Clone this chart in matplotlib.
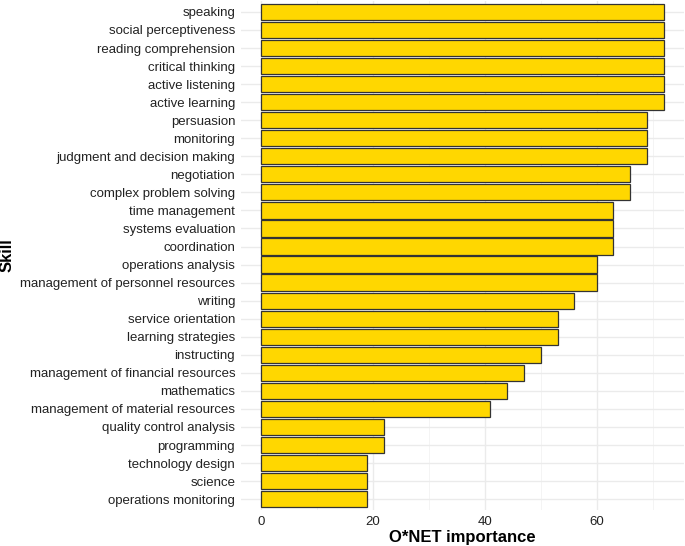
import matplotlib
matplotlib.use("Agg")
import matplotlib.pyplot as plt
from matplotlib.ticker import MultipleLocator

skills = [
    "speaking",
    "social perceptiveness",
    "reading comprehension",
    "critical thinking",
    "active listening",
    "active learning",
    "persuasion",
    "monitoring",
    "judgment and decision making",
    "negotiation",
    "complex problem solving",
    "time management",
    "systems evaluation",
    "coordination",
    "operations analysis",
    "management of personnel resources",
    "writing",
    "service orientation",
    "learning strategies",
    "instructing",
    "management of financial resources",
    "mathematics",
    "management of material resources",
    "quality control analysis",
    "programming",
    "technology design",
    "science",
    "operations monitoring",
]
importance = [72, 72, 72, 72, 72, 72, 69, 69, 69, 66, 66, 63, 63, 63, 60, 60,
              56, 53, 53, 50, 47, 44, 41, 22, 22, 19, 19, 19]

plt.rcParams["font.family"] = ["Liberation Sans", "DejaVu Sans"]

fig = plt.figure(figsize=(6.85, 5.46), dpi=100)
ax = fig.add_axes([0.3515, 0.066, 0.647, 0.932])

ypos = list(range(len(skills), 0, -1))
ax.barh(ypos, importance, height=0.9, color="#FFD700", edgecolor="#333333",
        linewidth=0.9, zorder=3)

ax.set_yticks(ypos)
ax.set_yticklabels(skills)
ax.set_ylim(0.4, len(skills) + 0.6)
xmax = max(importance)
ax.set_xlim(-0.05 * xmax, xmax * 1.05)
ax.xaxis.set_major_locator(MultipleLocator(20))
ax.xaxis.set_minor_locator(MultipleLocator(10))

ax.grid(axis="y", which="major", color="#ebebeb", linewidth=1.0, zorder=0)
ax.grid(axis="x", which="major", color="#ebebeb", linewidth=1.0, zorder=0)
ax.grid(axis="x", which="minor", color="#f3f3f3", linewidth=0.6, zorder=0)
for s in ax.spines.values():
    s.set_visible(False)
ax.tick_params(axis="both", which="both", length=0, labelsize=9.5,
               labelcolor="#222222")
ax.tick_params(axis="y", pad=4)
ax.tick_params(axis="x", pad=4)

ax.set_xlabel("O*NET importance", fontsize=12, fontweight="bold", labelpad=2)
ax.set_ylabel("Skill", fontsize=12, fontweight="bold", labelpad=4)

fig.savefig("out.png", dpi=100)
